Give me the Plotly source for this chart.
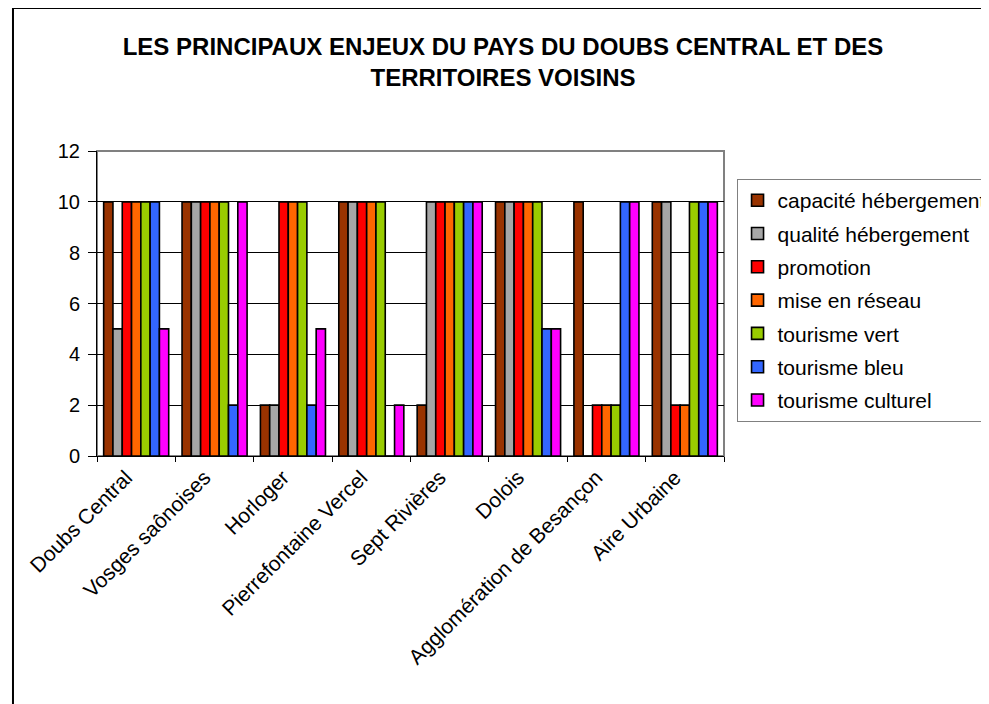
import plotly.graph_objects as go

FONT = "Arial, Liberation Sans, sans-serif"

territoires = [
    "Doubs Central",
    "Vosges saônoises",
    "Horloger",
    "Pierrefontaine Vercel",
    "Sept Rivières",
    "Dolois",
    "Agglomération de Besançon",
    "Aire Urbaine",
]

capacite_hebergement = [10, 10, 2, 10, 2, 10, 10, 10]
qualite_hebergement = [5, 10, 2, 10, 10, 10, 0, 10]
promotion = [10, 10, 10, 10, 10, 10, 2, 2]
mise_en_reseau = [10, 10, 10, 10, 10, 10, 2, 2]
tourisme_vert = [10, 10, 10, 10, 10, 10, 2, 10]
tourisme_bleu = [10, 2, 2, 0, 10, 5, 10, 10]
tourisme_culturel = [5, 10, 5, 2, 10, 5, 10, 10]

series = [
    ("capacité hébergement", capacite_hebergement, "#993300"),
    ("qualité hébergement", qualite_hebergement, "#A6A6A6"),
    ("promotion", promotion, "#FF0000"),
    ("mise en réseau", mise_en_reseau, "#FF6600"),
    ("tourisme vert", tourisme_vert, "#99CC00"),
    ("tourisme bleu", tourisme_bleu, "#3366FF"),
    ("tourisme culturel", tourisme_culturel, "#FF00FF"),
]

fig = go.Figure()
for i, (name, values, colour) in enumerate(series):
    fig.add_trace(
        go.Bar(
            x=territoires,
            y=values,
            name=name,
            legendgroup=f"g{i}",
            marker=dict(color=colour, line=dict(color="black", width=1.6)),
        )
    )

# the page body adds an 8px offset, so margins are shifted by that amount
fig.update_layout(
    width=989,
    height=704,
    autosize=False,
    margin=dict(l=89, r=273, t=143, b=256, autoexpand=False),
    paper_bgcolor="white",
    plot_bgcolor="white",
    barmode="group",
    bargap=0.17,
    bargroupgap=0,
    font=dict(family=FONT, color="black", size=19),
    title=dict(
        text="<b>LES PRINCIPAUX ENJEUX DU PAYS DU DOUBS CENTRAL ET DES<br>TERRITOIRES VOISINS</b>",
        font=dict(family=FONT, size=24, color="black"),
        x=495 / 989,
        xanchor="center",
        xref="container",
        y=0.933,
        yanchor="top",
        yref="container",
    ),
    legend=dict(
        x=1.02,
        xanchor="left",
        y=0.908,
        yanchor="top",
        bordercolor="#808080",
        borderwidth=1,
        bgcolor="white",
        font=dict(family=FONT, size=21, color="black"),
        tracegroupgap=3,
        traceorder="grouped",
    ),
    showlegend=True,
)

fig.update_yaxes(
    range=[0, 12],
    dtick=2,
    showgrid=True,
    gridcolor="black",
    gridwidth=1,
    showline=True,
    linecolor="black",
    linewidth=1,
    ticks="outside",
    ticklen=8,
    tickcolor="black",
    ticklabelstandoff=4,
    zeroline=False,
    tickfont=dict(family=FONT, size=20),
)
fig.update_xaxes(
    type="category",
    tickson="boundaries",
    ticks="outside",
    ticklen=5,
    tickcolor="black",
    tickangle=-45,
    ticklabelshift=-10,
    ticklabelstandoff=0,
    showline=True,
    linecolor="black",
    linewidth=1,
    showgrid=False,
    tickfont=dict(family=FONT, size=21),
)

# grey plot-area frame (top/right) and the outer chart border
fig.add_shape(
    type="rect", xref="paper", yref="paper", x0=0, x1=1, y0=0, y1=1,
    line=dict(color="#808080", width=2), layer="below",
)
fig.add_shape(
    type="rect", xref="paper", yref="paper", x0=-0.134, x1=2, y0=-2, y1=1.469,
    line=dict(color="black", width=2), layer="below",
)

fig.write_html("out.html")
